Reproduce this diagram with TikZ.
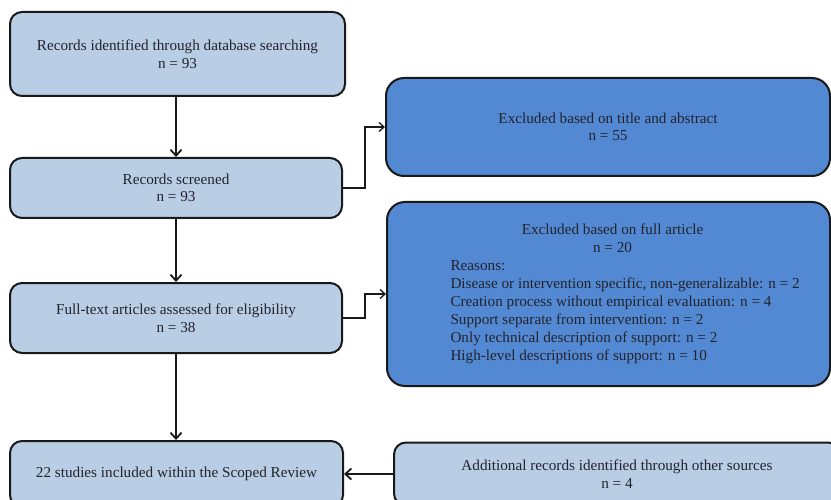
\documentclass[tikz,border=0pt]{standalone}
\usepackage{fontspec}
\setmainfont{Liberation Serif}
\usetikzlibrary{arrows.meta}
\definecolor{paleblue}{RGB}{185,205,229}
\definecolor{deepblue}{RGB}{82,137,210}
\definecolor{inkline}{RGB}{25,25,25}
\definecolor{inktext}{RGB}{35,35,45}
\tikzset{
  x=1pt, y=1pt,
  flowbox/.style={draw=inkline, line width=2pt, rounded corners=12pt,
    fill=paleblue, align=center, text=inktext, inner sep=0pt,
    font=\fontsize{15.2}{17.5}\selectfont},
  exclbox/.style={flowbox, fill=deepblue, rounded corners=18pt},
  flowarrow/.style={draw=inkline, line width=2.4pt,
    -{Straight Barb[length=6pt,width=11pt,line width=1.8pt]}},
  sidearrow/.style={draw=inkline, line width=1.4pt,
    -{Straight Barb[length=5pt,width=9pt,line width=1.3pt]}}
}
\begin{document}
\begin{tikzpicture}
\useasboundingbox (0,0) rectangle (831,-500);
\clip (0,0) rectangle (831,-500);
\fill[white] (0,0) rectangle (831,-500);

% main column
\node[flowbox, minimum width=335pt, minimum height=84pt] (ident) at (177.5,-54)
  {Records identified through database searching\\ n = 93};
\node[flowbox, minimum width=332pt, minimum height=60pt] (screen) at (176,-188)
  {Records screened\\ n = 93};
\node[flowbox, minimum width=332pt, minimum height=70pt] (fulltext) at (176,-318)
  {Full-text articles assessed for eligibility\\ n = 38};
\node[flowbox, minimum width=333pt, minimum height=66pt] (included) at (176.5,-474)
  {22 studies included within the Scoped Review};

% side column
\node[exclbox, minimum width=444pt, minimum height=98pt] (extitle) at (608,-127)
  {Excluded based on title and abstract\\ n = 55};
\node[exclbox, minimum width=443pt, minimum height=184pt] (exfull) at (608.5,-294)
  {\begin{minipage}{430pt}\fontsize{15.2}{18}\selectfont
   \centering\hspace*{8pt}Excluded based on  full article\\ \hspace*{8pt}n = 20\par
   \raggedright\leftskip=57pt
   Reasons:\\
   Disease or intervention specific, non-generalizable: n = 2\\
   Creation process without empirical evaluation: n = 4\\
   Support separate from intervention: n = 2\\
   Only technical description of support: n = 2\\
   High-level descriptions of support: n = 10
   \end{minipage}};
\node[flowbox, minimum width=446pt, minimum height=63pt] (other) at (617,-474)
  {Additional records identified through other sources\\ n = 4};

% connectors
\draw[flowarrow] (ident.south -| screen.north) -- (screen.north);
\draw[flowarrow] (screen.south) -- (fulltext.north);
\draw[flowarrow] (fulltext.south) -- (fulltext.south |- included.north);
\draw[sidearrow] (screen.east) -- ++(22,0) |- (extitle.west);
\draw[sidearrow] (fulltext.east) -- ++(22,0) |- (exfull.west);
\draw[flowarrow] (other.west) -- (other.west -| included.east);
\end{tikzpicture}
\end{document}
